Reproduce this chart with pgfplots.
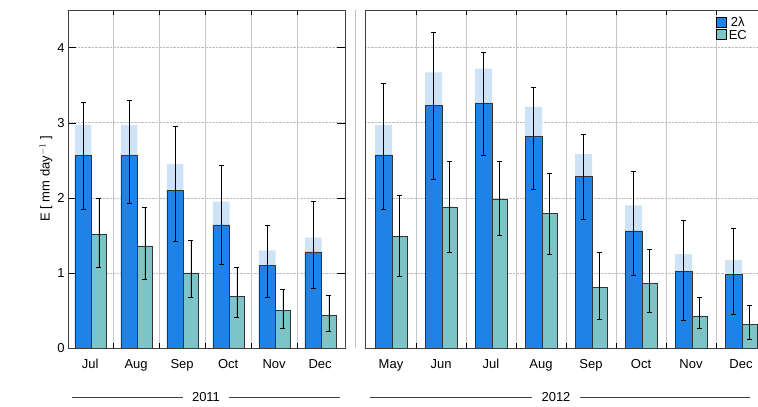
\documentclass[border=0pt]{standalone}
\usepackage{pgfplots}
\pgfplotsset{compat=1.18}
\usepackage{fontspec}
\setmainfont{Liberation Sans}
\definecolor{cblue}{HTML}{1E82E6}
\definecolor{cteal}{HTML}{7CC4C8}
\definecolor{cshade}{HTML}{CFE3F7}
\newcommand\fs{\fontsize{13bp}{15bp}\selectfont}
\pgfplotsset{
  panel/.style={
    anchor=south west, scale only axis, height=338bp,
    ymin=0, ymax=4.5, ytick={0,1,2,3,4},
    /pgf/number format/assume math mode=true,
    axis line style={draw=black!75, line width=0.8pt},
    xtick style={draw=none},
    minor x tick style={draw=black, line width=0.6pt},
    ytick style={draw=black},
    tick align=inside,
    major tick length=8bp, minor tick length=5bp,
    ymajorgrids, xminorgrids,
    major grid style={densely dotted, gray!50},
    minor grid style={gray!45, line width=0.8pt},
    tick label style={font=\fs},
    xticklabel style={yshift=-8bp},
    error bars/error bar style={black, line width=0.6pt},
    error bars/error mark options={rotate=90, mark size=2.5bp, black},
  },
  bb/.style={ybar, bar shift=0, fill=cblue, draw=black!80, line width=0.5pt},
  tb/.style={ybar, bar shift=0, fill=cteal, draw=black!80, line width=0.5pt},
  sb/.style={ybar, bar shift=0, fill=cshade, draw=none, forget plot},
}
\begin{document}
\begin{tikzpicture}
\begin{axis}[panel, at={(68bp,59bp)}, width=277bp,
  xmin=-0.48, xmax=5.54,
  xtick={0,1,2,3,4,5},
  xticklabels={Jul,Aug,Sep,Oct,Nov,Dec},
  minor xtick={0.5,1.5,2.5,3.5,4.5},
  ylabel={E [ mm day$^{-1}$ ]}, ylabel style={font=\fs, yshift=-2bp}]
\addplot[sb, bar width=0.36] coordinates {(-0.15,2.97)(0.85,2.97)(1.85,2.45)(2.85,1.95)(3.85,1.30)(4.85,1.47)};
\addplot[bb, bar width=0.36, error bars/.cd, y dir=both, y explicit] coordinates {
(-0.15,2.56) += (0,0.71) -= (0,0.71)
(0.85,2.56) += (0,0.74) -= (0,0.63)
(1.85,2.10) += (0,0.85) -= (0,0.68)
(2.85,1.64) += (0,0.79) -= (0,0.52)
(3.85,1.10) += (0,0.54) -= (0,0.43)
(4.85,1.28) += (0,0.68) -= (0,0.48)};
\addplot[tb, bar width=0.32, error bars/.cd, y dir=both, y explicit] coordinates {
(0.19,1.51) += (0,0.49) -= (0,0.43)
(1.19,1.36) += (0,0.52) -= (0,0.44)
(2.19,1.00) += (0,0.43) -= (0,0.32)
(3.19,0.69) += (0,0.38) -= (0,0.28)
(4.19,0.50) += (0,0.28) -= (0,0.23)
(5.19,0.43) += (0,0.27) -= (0,0.21)};
\end{axis}
\draw[gray!50, line width=0.8pt] (355bp,59bp) -- (355bp,397bp);
\begin{axis}[panel, at={(365bp,59bp)}, width=393bp,
  xmin=-0.52, xmax=7.34,
  xtick={0,1,2,3,4,5,6,7},
  xticklabels={May,Jun,Jul,Aug,Sep,Oct,Nov,Dec},
  minor xtick={0.5,1.5,2.5,3.5,4.5,5.5,6.5},
  yticklabels={}, ytick style={draw=none},
  legend style={at={(0.885,0.99)}, anchor=north west, draw=none, fill=none, font=\fs,
    row sep=-2bp},
  legend image code/.code={\draw[#1, line width=0.8pt, draw=black] (0bp,-4bp) rectangle (10bp,6bp);}]
\addplot[sb, bar width=0.34] coordinates {(-0.15,2.97)(0.85,3.67)(1.85,3.72)(2.85,3.21)(3.85,2.58)(4.85,1.90)(5.85,1.25)(6.85,1.17)};
\addplot[bb, bar width=0.34, error bars/.cd, y dir=both, y explicit] coordinates {
(-0.15,2.57) += (0,0.95) -= (0,0.72)
(0.85,3.23) += (0,0.97) -= (0,0.98)
(1.85,3.26) += (0,0.68) -= (0,0.69)
(2.85,2.82) += (0,0.65) -= (0,0.70)
(3.85,2.28) += (0,0.56) -= (0,0.56)
(4.85,1.56) += (0,0.80) -= (0,0.59)
(5.85,1.02) += (0,0.68) -= (0,0.65)
(6.85,0.98) += (0,0.62) -= (0,0.53)};
\addlegendentry{2λ}
\addplot[tb, bar width=0.30, error bars/.cd, y dir=both, y explicit] coordinates {
(0.17,1.49) += (0,0.54) -= (0,0.54)
(1.17,1.88) += (0,0.61) -= (0,0.60)
(2.17,1.98) += (0,0.51) -= (0,0.48)
(3.17,1.79) += (0,0.54) -= (0,0.54)
(4.17,0.81) += (0,0.46) -= (0,0.43)
(5.17,0.86) += (0,0.45) -= (0,0.38)
(6.17,0.42) += (0,0.25) -= (0,0.15)
(7.17,0.31) += (0,0.26) -= (0,0.19)};
\addlegendentry{EC}
\end{axis}
\draw[black!75, line width=1pt] (72bp,10bp) -- (183bp,10bp);
\node[font=\fs] at (206bp,10bp) {2011};
\draw[black!75, line width=1pt] (229bp,10bp) -- (340bp,10bp);
\draw[black!75, line width=1pt] (370bp,10bp) -- (532bp,10bp);
\node[font=\fs] at (556bp,10bp) {2012};
\draw[black!75, line width=1pt] (580bp,10bp) -- (750bp,10bp);
\pgfresetboundingbox
\path (0,0) rectangle (758bp,407bp);
\end{tikzpicture}
\end{document}
